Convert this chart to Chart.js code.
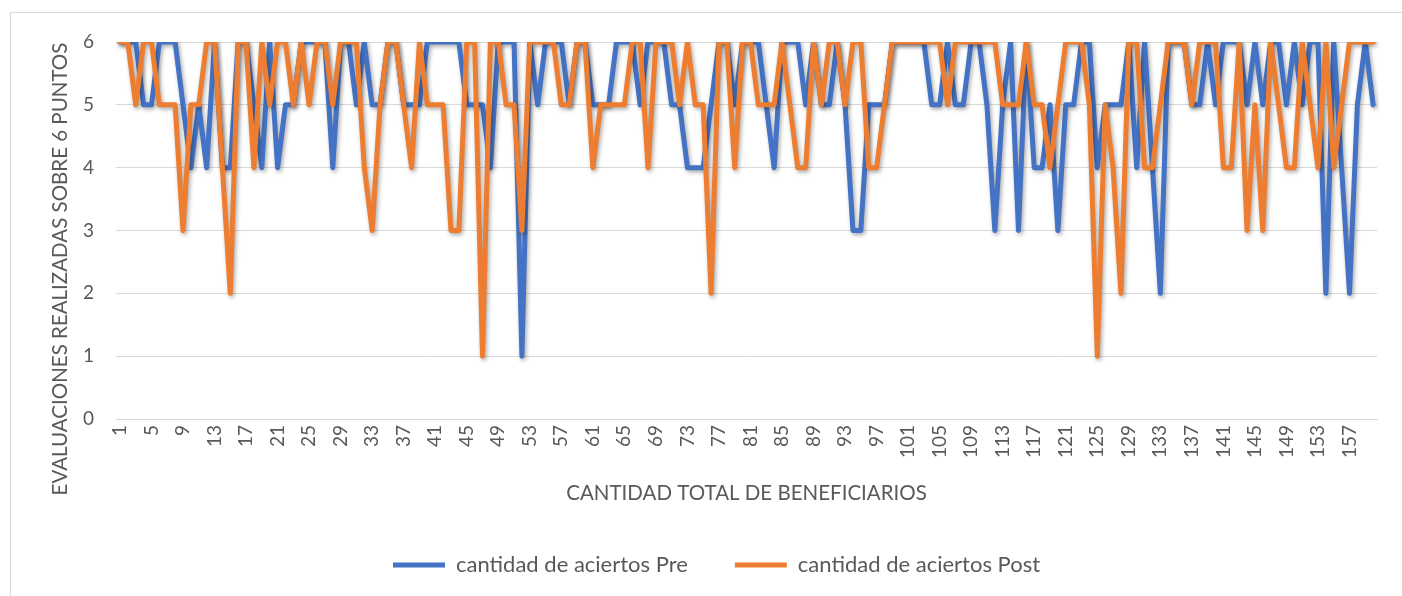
<!DOCTYPE html>
<html>
<head>
<meta charset="utf-8">
<script src="https://cdn.jsdelivr.net/npm/chart.js@4.4.1/dist/chart.umd.min.js"></script>
<style>
  html, body { margin: 0; padding: 0; background: #fff; }
  #wrap { position: relative; width: 1402px; height: 596px; overflow: hidden; }
  #frame { position: absolute; left: 10px; top: 12px; width: 1400px; height: 600px;
           border-left: 1px solid #d9d9d9; border-top: 1px solid #d9d9d9; }
  #chart { position: absolute; left: 0; top: 0; }
</style>
</head>
<body>
<div id="wrap">
  <div id="frame"></div>
  <canvas id="chart" width="1402" height="596"></canvas>
</div>
<script>
const FONT = "Lato, 'Open Sans', sans-serif";
const TEXT_GRAY = '#595959';
const GRID_GRAY = '#d9d9d9';
const LEGEND_PAD = 47;
const Y_TITLE = 'EVALUACIONES REALIZADAS SOBRE 6 PUNTOS';

// beneficiaries 1..160 (category axis)
const beneficiaries = Array.from({ length: 160 }, (_, i) => String(i + 1));

const preHits = [
  6, 6, 6, 5, 5, 6, 6, 6, 5, 4,
  5, 4, 6, 4, 4, 6, 6, 5, 4, 6,
  4, 5, 5, 6, 6, 6, 6, 4, 6, 6,
  5, 6, 5, 5, 6, 6, 5, 5, 5, 6,
  6, 6, 6, 6, 5, 5, 5, 4, 6, 6,
  6, 1, 6, 5, 6, 6, 6, 5, 6, 6,
  5, 5, 5, 6, 6, 6, 5, 6, 6, 6,
  5, 5, 4, 4, 4, 5, 6, 6, 5, 6,
  6, 6, 5, 4, 6, 6, 6, 5, 6, 5,
  5, 6, 5, 3, 3, 5, 5, 5, 6, 6,
  6, 6, 6, 5, 5, 6, 5, 5, 6, 6,
  5, 3, 5, 6, 3, 6, 4, 4, 5, 3,
  5, 5, 6, 6, 4, 5, 5, 5, 6, 4,
  6, 4, 2, 6, 6, 6, 5, 5, 6, 5,
  6, 6, 6, 5, 6, 5, 6, 6, 5, 6,
  5, 6, 6, 2, 6, 4, 2, 5, 6, 5,
];

const postHits = [
  6, 6, 5, 6, 6, 5, 5, 5, 3, 5,
  5, 6, 6, 4, 2, 6, 6, 4, 6, 5,
  6, 6, 5, 6, 5, 6, 6, 5, 6, 6,
  6, 4, 3, 5, 6, 6, 5, 4, 6, 5,
  5, 5, 3, 3, 6, 6, 1, 6, 6, 5,
  5, 3, 6, 6, 6, 6, 5, 5, 6, 6,
  4, 5, 5, 5, 5, 6, 6, 4, 6, 6,
  6, 5, 6, 5, 5, 2, 6, 6, 4, 6,
  6, 5, 5, 5, 6, 5, 4, 4, 6, 5,
  6, 6, 5, 6, 6, 4, 4, 5, 6, 6,
  6, 6, 6, 6, 6, 5, 6, 6, 6, 6,
  6, 6, 5, 5, 5, 6, 5, 5, 4, 5,
  6, 6, 6, 5, 1, 5, 4, 2, 6, 6,
  4, 4, 5, 6, 6, 6, 5, 6, 6, 6,
  4, 4, 6, 3, 5, 3, 6, 5, 4, 4,
  6, 5, 4, 6, 4, 5, 6, 6, 6, 6,
];

// soft drop shadow under the series lines, like the office chart
const lineShadow = {
  id: 'lineShadow',
  beforeDatasetDraw(chart) {
    const ctx = chart.ctx;
    ctx.save();
    ctx.shadowColor = 'rgba(0,0,0,0.35)';
    ctx.shadowBlur = 4;
    ctx.shadowOffsetX = 1.5;
    ctx.shadowOffsetY = 2;
  },
  afterDatasetDraw(chart) {
    chart.ctx.restore();
  },
};

// legend in the original sits a bit right of the canvas centre
const legendNudge = {
  id: 'legendNudge',
  afterLayout(chart) {
    const l = chart.legend;
    if (!l || !l.lineWidths) return;
    const start = (l.left + LEGEND_PAD + l.right - l.lineWidths[0]) / 2;
    const dx = 393 - start;
    l.left += dx;
    l.right += dx;
  },
};

// value axis title is centred on plot + tick labels in the original, not on the plot alone
const yAxisTitle = {
  id: 'yAxisTitle',
  afterDraw(chart) {
    const ctx = chart.ctx;
    ctx.save();
    ctx.translate(60, 269);
    ctx.rotate(-Math.PI / 2);
    ctx.font = `20.5px ${FONT}`;
    ctx.fillStyle = TEXT_GRAY;
    ctx.textAlign = 'center';
    ctx.textBaseline = 'middle';
    ctx.fillText(Y_TITLE, 0, 0);
    ctx.restore();
  },
};

const seriesStyle = {
  borderWidth: 5,
  pointRadius: 0,
  tension: 0,
  borderJoinStyle: 'round',
  borderCapStyle: 'round',
  fill: false,
};

new Chart(document.getElementById('chart'), {
  type: 'line',
  data: {
    labels: beneficiaries,
    datasets: [
      { ...seriesStyle, label: 'cantidad de aciertos Pre', data: preHits,
        borderColor: '#4472C4', backgroundColor: '#4472C4', order: 1 },
      { ...seriesStyle, label: 'cantidad de aciertos Post', data: postHits,
        borderColor: '#ED7D31', backgroundColor: '#ED7D31', order: 0 },
    ],
  },
  options: {
    responsive: false,
    animation: false,
    layout: { padding: { left: 12, right: 19, top: 42, bottom: 10 } },
    plugins: {
      tooltip: { enabled: false },
      legend: {
        position: 'bottom',
        labels: {
          usePointStyle: true,
          pointStyle: 'line',
          pointStyleWidth: 52,
          color: TEXT_GRAY,
          padding: LEGEND_PAD,
          font: { family: FONT, size: 22 },
          sort: (a, b) => a.datasetIndex - b.datasetIndex,
        },
      },
    },
    scales: {
      x: {
        offset: true,
        grid: { display: false, drawTicks: false },
        border: { color: GRID_GRAY },
        ticks: {
          autoSkip: false,
          maxRotation: 90,
          minRotation: 90,
          padding: 6,
          color: TEXT_GRAY,
          font: { family: FONT, size: 19 },
          callback: (v, i) => (i % 4 === 0 ? beneficiaries[i] : ''),
        },
        title: {
          display: true,
          text: 'CANTIDAD TOTAL DE BENEFICIARIOS',
          color: TEXT_GRAY,
          font: { family: FONT, size: 20.5 },
          padding: { top: 0, bottom: 1 },
        },
        afterFit: (s) => { s.height = 88; },
      },
      y: {
        min: 0,
        max: 6,
        ticks: { stepSize: 1, padding: 22, color: TEXT_GRAY, font: { family: FONT, size: 19 } },
        grid: { color: GRID_GRAY, drawTicks: false },
        border: { display: false },
        title: { display: false },
        afterFit: (s) => { s.width = 104; },
      },
    },
  },
  plugins: [lineShadow, legendNudge, yAxisTitle],
});
</script>
</body>
</html>
